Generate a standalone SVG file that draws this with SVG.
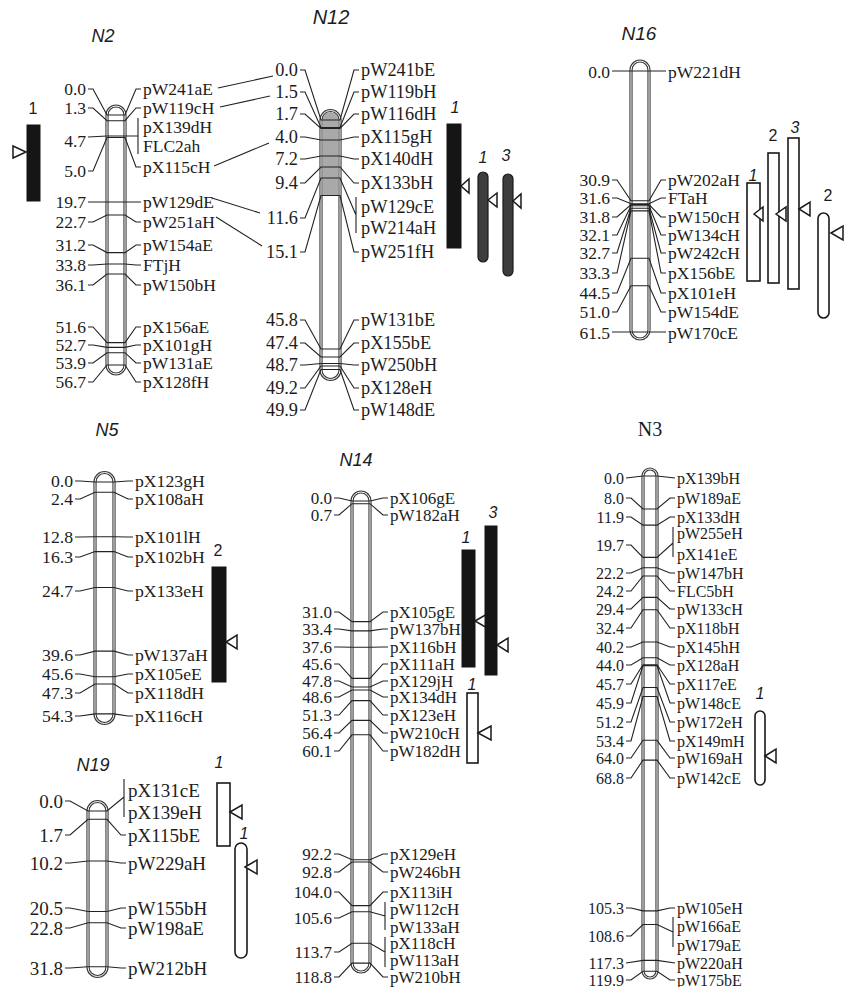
<svg xmlns="http://www.w3.org/2000/svg" width="848" height="987" viewBox="0 0 848 987">
<style>
text { font-family: "Liberation Serif", "Times New Roman", serif; fill: #1c1c1c; dominant-baseline: central; }
.num { text-anchor: end; }
.ttl { font-family: "Liberation Sans", Arial, sans-serif; font-style: italic; text-anchor: middle; }
.qn { font-family: "Liberation Sans", Arial, sans-serif; font-style: italic; text-anchor: middle; font-size: 16px; }
.qu { font-family: "Liberation Sans", Arial, sans-serif; text-anchor: middle; font-size: 16px; }
.ln { fill: none; stroke: #222; stroke-width: 1.1; }
.chr { fill: #fff; stroke: #3a3a3a; stroke-width: 3.2; }
.chri { fill: none; stroke: #fff; stroke-width: 1; }
.qblk { fill: #151515; stroke: #151515; stroke-width: 1; }
.qopen { fill: #fff; stroke: #1a1a1a; stroke-width: 1.6; }
.qgray { fill: #3d3d3d; stroke: #1a1a1a; stroke-width: 1.2; }
.tri { fill: #fff; stroke: #1a1a1a; stroke-width: 1.5; }
</style>

<!-- linkage group N2 -->
<g id="N2">
  <text class="ttl" x="103" y="36" font-size="18">N2</text>
  <rect class="chr" x="107" y="106" width="18" height="268" rx="9"/>
  <rect class="chri" x="107" y="106" width="18" height="268" rx="9"/>
  <path class="ln" d="M88 89H93L107 115H125L136 89H141M88 108H93L107 120.7H125L136 108H141M88 137L107 136H138M138 118V154M88 171H93L107 137.5H125L136 167H141M88 202H93L107 202H125L136 202H141M88 222H93L107 215H125L136 222H141M88 245H93L107 252.6H125L136 245H141M88 265H93L107 264H125L136 265H141M88 285H93L107 274H125L136 285H141M88 327H93L107 342.6H125L136 327H141M88 345H93L107 347.4H125L136 345H141M88 363H93L107 352.7H125L136 363H141M88 382H93L107 365H125L136 382H141"/>
  <g class="num" font-size="17.5">
    <text x="86" y="89">0.0</text><text x="86" y="108">1.3</text><text x="86" y="141">4.7</text><text x="86" y="171">5.0</text>
    <text x="86" y="202">19.7</text><text x="86" y="222">22.7</text><text x="86" y="245">31.2</text><text x="86" y="265">33.8</text>
    <text x="86" y="285">36.1</text><text x="86" y="327">51.6</text><text x="86" y="345">52.7</text><text x="86" y="363">53.9</text><text x="86" y="382">56.7</text>
  </g>
  <g font-size="17.5">
    <text x="143" y="89">pW241aE</text><text x="143" y="108">pW119cH</text><text x="143" y="127">pX139dH</text><text x="143" y="146">FLC2ah</text>
    <text x="143" y="167">pX115cH</text><text x="143" y="202">pW129dE</text><text x="143" y="222">pW251aH</text><text x="143" y="245">pW154aE</text>
    <text x="143" y="265">FTjH</text><text x="143" y="285">pW150bH</text><text x="143" y="327">pX156aE</text><text x="143" y="345">pX101gH</text>
    <text x="143" y="363">pW131aE</text><text x="143" y="382">pX128fH</text>
  </g>
  <text class="qu" x="33" y="108">1</text>
  <rect class="qblk" x="27" y="125" width="13" height="76"/>
  <path class="tri" d="M13 146V158L26 152Z"/>
</g>

<!-- linkage group N12 -->
<g id="N12">
  <text class="ttl" x="331" y="17" font-size="20">N12</text>
  <rect class="chr" x="321" y="110.5" width="19" height="269" rx="9.5"/>
  <path d="M322.6 195.5V120A7.9 7.9 0 0 1 338.4 120V195.5Z" fill="#a9a9a9"/>
  <rect class="chri" x="321" y="110.5" width="19" height="269" rx="9.5"/>
  <path class="ln" d="M300 70H305L321 120H340L354 70H359M300 92H305L321 127.5H340L354 92H359M300 114H305L321 128.5H340L354 114H359M300 137H305L321 140H340L354 137H359M300 159H305L321 156H340L354 159H359M300 183H305L321 167H340L354 183H359M300 218H305L321 178H340L356 215M356 197V233M300 252H305L321 195.5H340L354 252H359M300 320H305L321 349H340L354 320H359M300 343H305L321 357H340L354 343H359M300 365H305L321 363.5H340L354 365H359M300 388H305L321 366H340L354 388H359M300 410H305L321 369.5H340L354 410H359"/>
  <g class="num" font-size="18.3">
    <text x="298" y="70">0.0</text><text x="298" y="92">1.5</text><text x="298" y="114">1.7</text><text x="298" y="137">4.0</text>
    <text x="298" y="159">7.2</text><text x="298" y="183">9.4</text><text x="298" y="218">11.6</text><text x="298" y="252">15.1</text>
    <text x="298" y="320">45.8</text><text x="298" y="343">47.4</text><text x="298" y="365">48.7</text><text x="298" y="388">49.2</text><text x="298" y="410">49.9</text>
  </g>
  <g font-size="18.3">
    <text x="361" y="70">pW241bE</text><text x="361" y="92">pW119bH</text><text x="361" y="114">pW116dH</text><text x="361" y="137">pX115gH</text>
    <text x="361" y="159">pX140dH</text><text x="361" y="183">pX133bH</text><text x="361" y="207">pW129cE</text><text x="361" y="228">pW214aH</text>
    <text x="361" y="252">pW251fH</text><text x="361" y="320">pW131bE</text><text x="361" y="343">pX155bE</text><text x="361" y="365">pW250bH</text>
    <text x="361" y="388">pX128eH</text><text x="361" y="410">pW148dE</text>
  </g>
  <text class="qn" x="455" y="107">1</text>
  <rect class="qblk" x="447" y="124" width="14" height="124"/>
  <path class="tri" d="M461 186L469 179V193Z"/>
  <text class="qn" x="483" y="157">1</text>
  <rect class="qgray" x="478" y="172" width="10" height="90" rx="5"/>
  <path class="tri" d="M488 200L497 193V207Z"/>
  <text class="qn" x="506" y="155">3</text>
  <rect class="qgray" x="503" y="174" width="10" height="102" rx="5"/>
  <path class="tri" d="M513 201L521 194V208Z"/>
</g>

<!-- linkage group N16 -->
<g id="N16">
  <text class="ttl" x="639" y="33" font-size="19">N16</text>
  <rect class="chr" x="631" y="61" width="18" height="278" rx="9"/>
  <rect class="chri" x="631" y="61" width="18" height="278" rx="9"/>
  <path class="ln" d="M612 71H666M612 180H617L631 200.7H649L661 180H666M612 198H617L631 203.7H649L661 198H666M612 217H617L631 204.5H649L661 217H666M612 235H617L631 205.8H649L661 235H666M612 253H617L631 208.3H649L661 253H666M612 273H617L631 210.9H649L661 273H666M612 293H617L631 258.2H649L661 293H666M612 312H617L631 285.7H649L661 312H666M612 332H666"/>
  <g class="num" font-size="17.5">
    <text x="610" y="72">0.0</text><text x="610" y="180">30.9</text><text x="610" y="198">31.6</text><text x="610" y="217">31.8</text>
    <text x="610" y="235">32.1</text><text x="610" y="253">32.7</text><text x="610" y="273">33.3</text><text x="610" y="293">44.5</text>
    <text x="610" y="312">51.0</text><text x="610" y="333">61.5</text>
  </g>
  <g font-size="17.5">
    <text x="668" y="72">pW221dH</text><text x="668" y="180">pW202aH</text><text x="668" y="198">FTaH</text><text x="668" y="217">pW150cH</text>
    <text x="668" y="235">pW134cH</text><text x="668" y="253">pW242cH</text><text x="668" y="273">pX156bE</text><text x="668" y="293">pX101eH</text>
    <text x="668" y="312">pW154dE</text><text x="668" y="333">pW170cE</text>
  </g>
  <text class="qn" x="753" y="175">1</text>
  <rect class="qopen" x="747" y="183" width="13" height="98"/>
  <path class="tri" d="M754 214L763 207V221Z"/>
  <text class="qu" x="773" y="135">2</text>
  <rect class="qopen" x="768" y="153" width="11" height="130"/>
  <path class="tri" d="M776 214L786 207V221Z"/>
  <text class="qn" x="795" y="127">3</text>
  <rect class="qopen" x="788" y="138" width="11" height="151"/>
  <path class="tri" d="M799 209L810 202V216Z"/>
  <text class="qu" x="828" y="195">2</text>
  <rect class="qopen" x="818" y="213" width="11" height="105" rx="5.5"/>
  <path class="tri" d="M831 233L843 226V240Z"/>
</g>

<!-- linkage group N5 -->
<g id="N5">
  <text class="ttl" x="107" y="430" font-size="18">N5</text>
  <rect class="chr" x="95" y="472.5" width="19" height="251" rx="9.5"/>
  <rect class="chri" x="95" y="472.5" width="19" height="251" rx="9.5"/>
  <path class="ln" d="M75 481H80L95 482H114L128 481H133M75 499H80L95 492.2H114L128 499H133M75 537H80L95 536.7H114L128 537H133M75 557H80L95 551.6H114L128 557H133M75 591H80L95 587.5H114L128 591H133M75 655H80L95 651.1H114L128 655H133M75 674H80L95 676.7H114L128 674H133M75 693H80L95 684H114L128 693H133M75 716H80L95 713.9H114L128 716H133"/>
  <g class="num" font-size="17.7">
    <text x="73" y="481">0.0</text><text x="73" y="499">2.4</text><text x="73" y="537">12.8</text><text x="73" y="557">16.3</text>
    <text x="73" y="591">24.7</text><text x="73" y="655">39.6</text><text x="73" y="674">45.6</text><text x="73" y="693">47.3</text><text x="73" y="716">54.3</text>
  </g>
  <g font-size="17.7">
    <text x="135" y="481">pX123gH</text><text x="135" y="499">pX108aH</text><text x="135" y="537">pX101lH</text><text x="135" y="557">pX102bH</text>
    <text x="135" y="591">pX133eH</text><text x="135" y="655">pW137aH</text><text x="135" y="674">pX105eE</text><text x="135" y="693">pX118dH</text>
    <text x="135" y="716">pX116cH</text>
  </g>
  <text class="qu" x="218" y="550">2</text>
  <rect class="qblk" x="212" y="567" width="14" height="115"/>
  <path class="tri" d="M226 642L237 635V649Z"/>
</g>

<!-- linkage group N19 -->
<g id="N19">
  <text class="ttl" x="93" y="765" font-size="18">N19</text>
  <rect class="chr" x="88" y="801.5" width="19" height="175" rx="9.5"/>
  <rect class="chri" x="88" y="801.5" width="19" height="175" rx="9.5"/>
  <path class="ln" d="M65 801H70L88 811H107L124 797M124 779V817M65 835H70L88 819.3H107L121 835H126M65 863H70L88 861H107L121 863H126M65 908H70L88 911.5H107L121 908H126M65 928H70L88 922.7H107L121 928H126M65 968H70L88 966.8H107L121 968H126"/>
  <g class="num" font-size="19">
    <text x="63" y="801">0.0</text><text x="63" y="835">1.7</text><text x="63" y="863">10.2</text>
    <text x="63" y="908">20.5</text><text x="63" y="928">22.8</text><text x="63" y="968">31.8</text>
  </g>
  <g font-size="19">
    <text x="128" y="790">pX131cE</text><text x="128" y="812">pX139eH</text><text x="128" y="835">pX115bE</text><text x="128" y="863">pW229aH</text>
    <text x="128" y="908">pW155bH</text><text x="128" y="928">pW198aE</text><text x="128" y="968">pW212bH</text>
  </g>
  <text class="qn" x="219" y="762">1</text>
  <rect class="qopen" x="217" y="783" width="13" height="63"/>
  <path class="tri" d="M230 812L242 805V819Z"/>
  <text class="qn" x="244" y="833">1</text>
  <rect class="qopen" x="235" y="843" width="12" height="115" rx="6"/>
  <path class="tri" d="M245 867L257 860V874Z"/>
</g>

<!-- linkage group N14 -->
<g id="N14">
  <text class="ttl" x="356" y="460" font-size="18">N14</text>
  <rect class="chr" x="352" y="492" width="18" height="480" rx="9"/>
  <rect class="chri" x="352" y="492" width="18" height="480" rx="9"/>
  <path class="ln" d="M334 498H339L352 501H370L383 498H388M334 515H339L352 503.7H370L383 515H388M334 612H339L352 621.6H370L383 612H388M334 629H339L352 630.9H370L383 629H388M334 647H339L352 647.3H370L383 647H388M334 664H339L352 678.4H370L383 664H388M334 681H339L352 687H370L383 681H388M334 697H339L352 690H370L383 697H388M334 715H339L352 700.6H370L383 715H388M334 733H339L352 720.4H370L383 733H388M334 751H339L352 734.8H370L383 751H388M334 854H339L352 859.7H370L383 854H388M334 872H339L352 862H370L383 872H388M334 892H339L352 905.6H370L383 892H388M334 918H339L352 911.8H370L385 916M385 902V930M334 952H339L352 943.3H370L385 952M385 937V967M334 977H339L352 963.1H370L383 977H388"/>
  <g class="num" font-size="17">
    <text x="332" y="498">0.0</text><text x="332" y="515">0.7</text><text x="332" y="612">31.0</text><text x="332" y="629">33.4</text>
    <text x="332" y="647">37.6</text><text x="332" y="664">45.6</text><text x="332" y="681">47.8</text><text x="332" y="697">48.6</text>
    <text x="332" y="715">51.3</text><text x="332" y="733">56.4</text><text x="332" y="751">60.1</text><text x="332" y="854">92.2</text>
    <text x="332" y="872">92.8</text><text x="332" y="892">104.0</text><text x="332" y="918">105.6</text><text x="332" y="952">113.7</text><text x="332" y="977">118.8</text>
  </g>
  <g font-size="17">
    <text x="390" y="498">pX106gE</text><text x="390" y="515">pW182aH</text><text x="390" y="612">pX105gE</text><text x="390" y="629">pW137bH</text>
    <text x="390" y="647">pX116bH</text><text x="390" y="664">pX111aH</text><text x="390" y="681">pX129jH</text><text x="390" y="697">pX134dH</text>
    <text x="390" y="715">pX123eH</text><text x="390" y="733">pW210cH</text><text x="390" y="751">pW182dH</text><text x="390" y="854">pX129eH</text>
    <text x="390" y="872">pW246bH</text><text x="390" y="892">pX113iH</text><text x="390" y="909">pW112cH</text><text x="390" y="927">pW133aH</text>
    <text x="390" y="943">pX118cH</text><text x="390" y="960">pW113aH</text><text x="390" y="977">pW210bH</text>
  </g>
  <text class="qn" x="466" y="537">1</text>
  <rect class="qblk" x="462" y="550" width="13" height="117"/>
  <path class="tri" d="M475 621L487 614V628Z"/>
  <text class="qn" x="493" y="512">3</text>
  <rect class="qblk" x="485" y="526" width="12" height="149"/>
  <path class="tri" d="M497 645L508 638V652Z"/>
  <text class="qn" x="472" y="684">1</text>
  <rect class="qopen" x="467" y="693" width="11" height="70"/>
  <path class="tri" d="M478 733L491 726V740Z"/>
</g>

<!-- linkage group N3 -->
<g id="N3">
  <text x="650" y="429" font-size="20" text-anchor="middle">N3</text>
  <rect class="chr" x="643" y="469" width="14" height="509" rx="7"/>
  <rect class="chri" x="643" y="469" width="14" height="509" rx="7"/>
  <path class="ln" d="M626 478L643 476H657L675 478M626 498H631L643 509H657L670 498H675M626 517H631L643 525.1H657L670 517H675M626 545H631L643 557.4H657L673 543M673 527V557M626 573H631L643 567.7H657L670 573H675M626 591H631L643 576H657L670 591H675M626 609H631L643 597.4H657L670 609H675M626 628H631L643 609.8H657L670 628H675M626 647H631L643 642H657L670 647H675M626 665H631L643 657.7H657L670 665H675M626 684H631L643 664.7H657L670 684H675M626 703H631L643 665.6H657L670 703H675M626 722H631L643 687.5H657L670 722H675M626 741H631L643 696.5H657L670 741H675M626 758H631L643 740.3H657L670 758H675M626 778H631L643 760.1H657L670 778H675M626 908H631L643 910.9H657L670 908H675M626 936H631L643 924.5H657L673 932M673 917V947M626 963L643 960.4H657L675 963M626 980H631L643 971.2H657L670 980H675"/>
  <g class="num" font-size="16">
    <text x="624" y="478">0.0</text><text x="624" y="498">8.0</text><text x="624" y="517">11.9</text><text x="624" y="545">19.7</text>
    <text x="624" y="573">22.2</text><text x="624" y="591">24.2</text><text x="624" y="609">29.4</text><text x="624" y="628">32.4</text>
    <text x="624" y="647">40.2</text><text x="624" y="665">44.0</text><text x="624" y="684">45.7</text><text x="624" y="703">45.9</text>
    <text x="624" y="722">51.2</text><text x="624" y="741">53.4</text><text x="624" y="758">64.0</text><text x="624" y="778">68.8</text>
    <text x="624" y="908">105.3</text><text x="624" y="936">108.6</text><text x="624" y="963">117.3</text><text x="624" y="980">119.9</text>
  </g>
  <g font-size="16">
    <text x="677" y="478">pX139bH</text><text x="677" y="498">pW189aE</text><text x="677" y="517">pX133dH</text><text x="677" y="533">pW255eH</text>
    <text x="677" y="554">pX141eE</text><text x="677" y="573">pW147bH</text><text x="677" y="591">FLC5bH</text><text x="677" y="609">pW133cH</text>
    <text x="677" y="628">pX118bH</text><text x="677" y="647">pX145hH</text><text x="677" y="665">pX128aH</text><text x="677" y="684">pX117eE</text>
    <text x="677" y="703">pW148cE</text><text x="677" y="722">pW172eH</text><text x="677" y="741">pX149mH</text><text x="677" y="758">pW169aH</text>
    <text x="677" y="778">pW142cE</text><text x="677" y="908">pW105eH</text><text x="677" y="926">pW166aE</text><text x="677" y="945">pW179aE</text>
    <text x="677" y="963">pW220aH</text><text x="677" y="980">pW175bE</text>
  </g>
  <text class="qn" x="760" y="693">1</text>
  <rect class="qopen" x="755" y="711" width="10" height="74" rx="5"/>
  <path class="tri" d="M765 756L776 749V763Z"/>
</g>

<!-- shared markers between N2 and N12 -->
<g id="links" class="ln">
  <path d="M218 88L273 76"/>
  <path d="M220 107L270 96"/>
  <path d="M214 166L269 143"/>
  <path d="M212 198L260 213"/>
  <path d="M216 217L262 246"/>
</g>
</svg>
